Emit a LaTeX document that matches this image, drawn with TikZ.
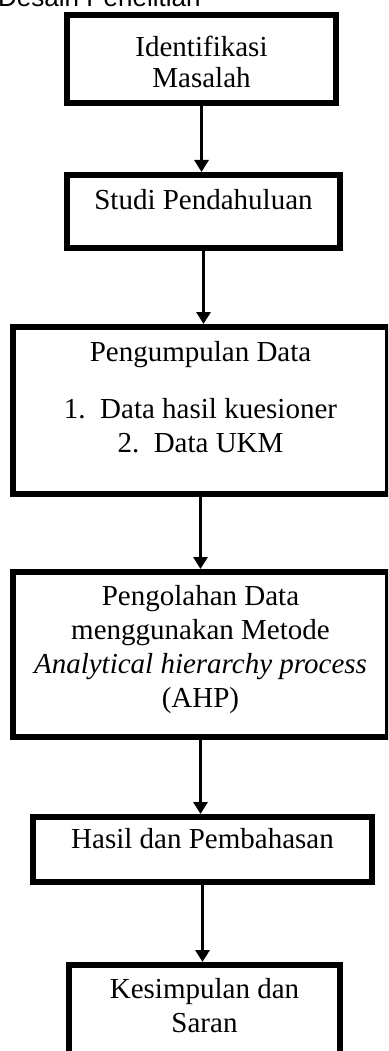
\documentclass[tikz,border=0pt]{standalone}
\usepackage{fontspec}
\setmainfont{Liberation Serif}
\newfontfamily\headfont{Liberation Sans}
\usetikzlibrary{arrows.meta, positioning, calc}

\begin{document}
\begin{tikzpicture}[x=1pt, y=-1pt,
        box/.style={draw, line width=6pt, rectangle, inner sep=0pt},
        txt/.style={align=center, inner sep=0pt, anchor=base, font=\fontsize{29pt}{34pt}\selectfont},
        arr/.style={line width=3pt, -{Triangle[width=14pt, length=12pt]}}]
        % Fix the page size
        \useasboundingbox (0,0) rectangle (388,1051);
        \clip (0,0) rectangle (388,1051);

        % Heading, cut at the top edge
        \node[anchor=base west, inner sep=0pt, font=\headfont\fontsize{26pt}{30pt}\selectfont] (head) at (-2,7) {Desain Penelitian};

        % Draw the boxes
        \node[box, minimum width=269pt, minimum height=88pt] (b1) at (201.5,59) {};
        \node[box, minimum width=273pt, minimum height=73pt] (b2) at (203.5,211.5) {};
        \node[box, minimum width=375pt, minimum height=167pt] (b3) at (200.5,410.5) {};
        \node[box, minimum width=375pt, minimum height=165pt] (b4) at (200.5,654.5) {};
        \node[box, minimum width=339pt, minimum height=65pt] (b5) at (202.5,849.5) {};
        \node[box, minimum width=271pt, minimum height=115pt] (b6) at (204.5,1022.5) {};

        % Box texts (base = last line)
        \node[txt] (t1) at ([yshift=-76pt]b1.north) {Identifikasi\\[-3pt]Masalah};
        \node[txt] (t2) at ([yshift=-37pt]b2.north) {Studi Pendahuluan};
        \node[txt] (t3) at ([yshift=-128pt]b3.north) {Pengumpulan Data\\[23pt]1.\enspace Data hasil kuesioner\\2.\enspace Data UKM};
        \node[txt] (t4) at ([yshift=-138pt]b4.north) {Pengolahan Data\\menggunakan Metode\\\textit{Analytical hierarchy process}\\(AHP)};
        \node[txt] (t5) at ([yshift=-34pt]b5.north) {Hasil dan Pembahasan};
        \node[txt] (t6) at ([yshift=-70pt]b6.north) {Kesimpulan dan\\Saran};

        % Draw the arrows
        \foreach \a/\b in {b1/b2, b2/b3, b3/b4, b4/b5, b5/b6} {
            \draw[arr] (\a.south) -- (\a.south |- \b.north);
        }
\end{tikzpicture}
\end{document}
